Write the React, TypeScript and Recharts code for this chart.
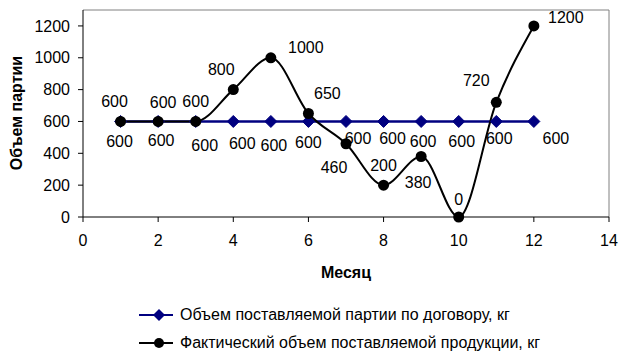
import { LineChart, Line, XAxis, YAxis, ReferenceLine, LabelList, Legend } from 'recharts'

const months = [1, 2, 3, 4, 5, 6, 7, 8, 9, 10, 11, 12]
const contractVolume = [600, 600, 600, 600, 600, 600, 600, 600, 600, 600, 600, 600]
const actualVolume = [600, 600, 600, 800, 1000, 650, 460, 200, 380, 0, 720, 1200]
const xTicks = [0, 2, 4, 6, 8, 10, 12, 14]
const yTicks = [0, 200, 400, 600, 800, 1000, 1200]

const contractName = 'Объем поставляемой партии по договору, кг'
const actualName = 'Фактический объем поставляемой продукции, кг'

// label nudges (dx, dy) so the labels sit where Excel put them
const contractLabelShift = [
  [-1, 20], [3, 19], [9, 24], [9, 22], [3, 24], [0, 21],
  [12, 17], [9, 17], [2, 20], [3, 20], [3, 17], [22, 17],
]
const actualLabelShift = [
  [-6, -20], [5, -19], [0, -20], [-12, -20], [35, -10], [19, -20],
  [-12, 24], [0, -20], [-3, 26], [0, -18], [-20, -22], [32, -8],
]

const data = months.map((m, i) => ({ month: m, contract: contractVolume[i], actual: actualVolume[i] }))

const FONT = '"Liberation Sans", Arial, sans-serif'
const NAVY = '#000080'

const makeLabel = (shift: number[][]) => (props: any) => {
  const { x, y, index, value } = props
  const [dx, dy] = shift[index] || [0, -16]
  return (
    <text x={x + dx} y={y + dy} textAnchor="middle" dominantBaseline="central" fontSize={16} fontFamily={FONT} fill="#000">
      {value}
    </text>
  )
}

const Diamond = (props: any) => {
  const { cx, cy } = props
  if (cx == null || cy == null) return null
  const r = 6
  return <polygon points={`${cx},${cy - r} ${cx + r},${cy} ${cx},${cy + r} ${cx - r},${cy}`} fill={NAVY} stroke={NAVY} />
}

const LegendBox = () => (
  <div style={{ fontFamily: FONT, fontSize: 16, color: '#000' }}>
    {[
      { name: contractName, color: NAVY, diamond: true },
      { name: actualName, color: '#000', diamond: false },
    ].map((item) => (
      <div key={item.name} style={{ display: 'flex', alignItems: 'center', height: 28 }}>
        <svg width={41} height={14} style={{ marginLeft: 139, marginRight: 0 }}>
          <line x1={0} y1={7} x2={34} y2={7} stroke={item.color} strokeWidth={2} />
          {item.diamond ? (
            <polygon points="20,1 26,7 20,13 14,7" fill={item.color} />
          ) : (
            <circle cx={20} cy={7} r={5} fill={item.color} />
          )}
        </svg>
        <span style={{ lineHeight: '16px' }}>{item.name}</span>
      </div>
    ))}
  </div>
)

export default function App() {
  return (
    <div style={{ position: 'absolute', left: 0, top: 0, width: 625, height: 353, background: '#fff' }}>
      <LineChart width={625} height={353} data={data} margin={{ top: 10, right: 16, bottom: 0, left: 0 }}>
        <XAxis
          dataKey="month"
          type="number"
          domain={[0, 14]}
          ticks={xTicks}
          height={136}
          tickSize={5}
          tickMargin={13}
          stroke="#000"
          tick={{ fill: '#000', fontSize: 16, fontFamily: FONT }}
          label={{
            content: () => (
              <text x={346} y={272} textAnchor="middle" dominantBaseline="central" fontSize={16} fontWeight="bold" fontFamily={FONT} fill="#000">
                Месяц
              </text>
            ),
          }}
        />
        <YAxis
          type="number"
          domain={[0, 1300]}
          ticks={yTicks}
          width={83}
          tickSize={5}
          tickMargin={8}
          stroke="#000"
          tick={{ fill: '#000', fontSize: 16, fontFamily: FONT }}
          label={{
            content: () => (
              <text x={16} y={113} transform="rotate(-90 16 113)" textAnchor="middle" dominantBaseline="central" fontSize={16} fontWeight="bold" fontFamily={FONT} fill="#000">
                Объем партии
              </text>
            ),
          }}
        />
        <ReferenceLine y={1300} stroke="#808080" strokeWidth={1} />
        <ReferenceLine x={14} stroke="#808080" strokeWidth={1} />
        <Legend
          layout="horizontal"
          verticalAlign="middle"
          align="center"
          content={<LegendBox />}
          wrapperStyle={{ position: 'absolute', left: 0, top: 301, width: 625 }}
        />
        <Line
          dataKey="contract"
          name={contractName}
          type="linear"
          stroke={NAVY}
          strokeWidth={2.5}
          dot={<Diamond />}
          isAnimationActive={false}
        >
          <LabelList dataKey="contract" content={makeLabel(contractLabelShift)} />
        </Line>
        <Line
          dataKey="actual"
          name={actualName}
          type="monotone"
          stroke="#000"
          strokeWidth={2}
          dot={{ r: 5.5, fill: '#000', stroke: '#000', strokeWidth: 0 }}
          isAnimationActive={false}
        >
          <LabelList dataKey="actual" content={makeLabel(actualLabelShift)} />
        </Line>
      </LineChart>
    </div>
  )
}
